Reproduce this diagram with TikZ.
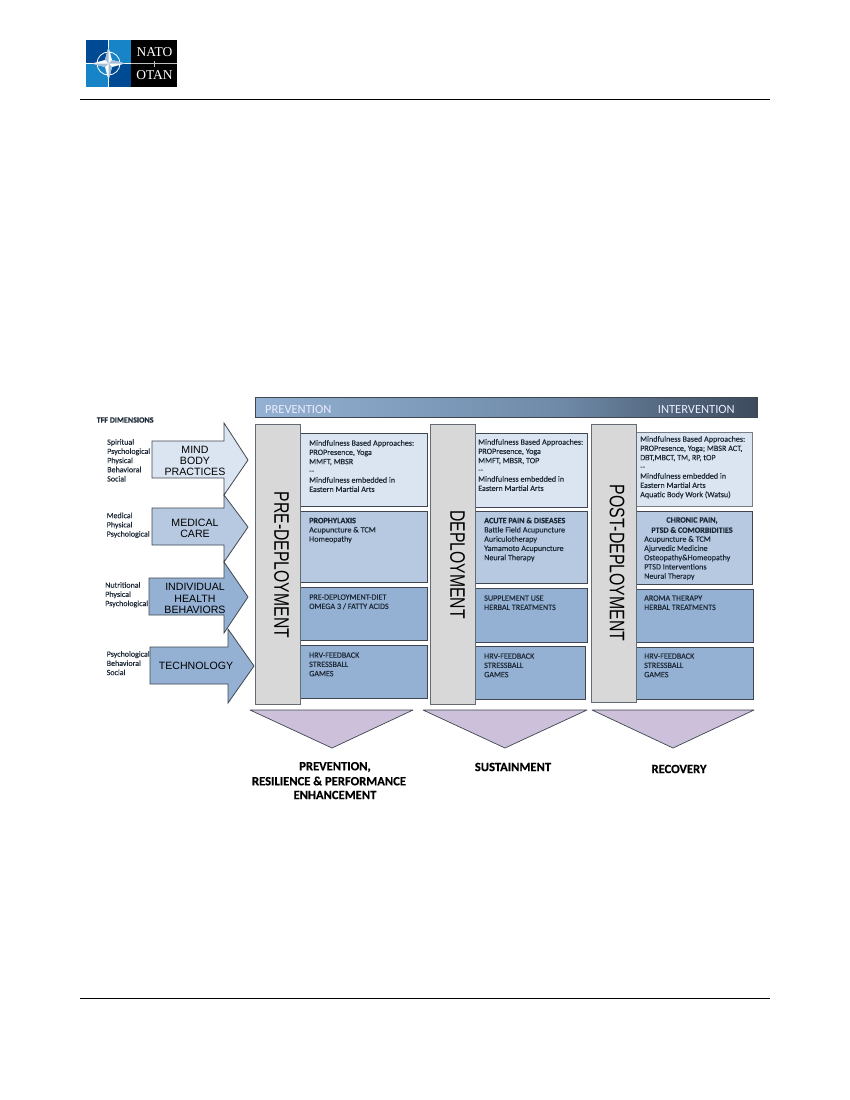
\documentclass[tikz,border=0pt]{standalone}
\usepackage{fontspec}
\usepackage{graphicx}
\setmainfont[BoldFeatures={FakeBold=0.35}]{Carlito}
\newfontfamily\blockf[FakeBold=0.25]{Carlito}
\newfontfamily\arialf{Liberation Sans}
\newfontfamily\timesf{Liberation Serif}
\newcommand{\strongtxt}{\normalfont\bfseries}
\definecolor{edgeC}{HTML}{3F4650}
\definecolor{txtC}{HTML}{1E2A38}
\definecolor{paleB}{HTML}{DAE5F1}
\definecolor{midB}{HTML}{B6C9E1}
\definecolor{deepB}{HTML}{94B1D3}
\definecolor{colG}{HTML}{D8D8D8}
\definecolor{lilac}{HTML}{CCC0DA}
\definecolor{navy}{HTML}{004A93}
\definecolor{sky}{HTML}{1784C7}
\definecolor{headerEnd}{HTML}{3C4A5C}
\definecolor{headerMid}{HTML}{6F8AA8}
\tikzset{
  panel/.style={draw=edgeC,line width=.8pt},
  column/.style={draw=edgeC!80,line width=.8pt,fill=colG},
  arrowshape/.style={draw=edgeC,line width=.8pt,line join=miter},
  wedge/.style={draw=edgeC,line width=.7pt,fill=lilac,line join=round},
  pagerule/.style={draw=black,line width=.8pt},
  blocktxt/.style={anchor=north west,inner sep=0pt,align=left,text=txtC,
    font=\blockf\fontsize{8.1}{9.25}\selectfont},
  dimtxt/.style={anchor=north west,inner sep=0pt,align=left,text=txtC,
    font=\blockf\fontsize{8}{9.2}\selectfont},
  headtxt/.style={inner sep=0pt,text=txtC,font=\fontsize{8.1}{9.25}\selectfont\strongtxt},
  arrowtxt/.style={inner sep=0pt,align=center,text=black,
    font=\arialf\fontsize{10.6}{11.3}\selectfont},
  coltxt/.style={inner sep=0pt,rotate=-90,text=black,font=\arialf\fontsize{21}{21}\selectfont},
  outcome/.style={inner sep=0pt,text=black,font=\fontsize{12.6}{14}\selectfont\strongtxt},
  bartxt/.style={inner sep=0pt,text=white!92!blue,font=\fontsize{12.5}{14}\selectfont},
}
\newcommand{\blocktext}[4]{\node[blocktxt] (#1) at (#2,#3-3.5) {\rule{0pt}{6pt}#4};}
\newcommand{\dimtext}[4]{\node[dimtxt] (#1) at (#2,#3-3.5) {\rule{0pt}{6pt}#4};}
\begin{document}
\begin{tikzpicture}[x=1pt,y=-1pt]
\path[use as bounding box,fill=white] (0,0) rectangle (850,1100);

% logo
\fill[navy] (86,40) rectangle (131,87);
\fill[sky] (108.5,40) rectangle (131,63.5);
\fill[sky] (86,63.5) rectangle (108.5,87);
\fill[black] (131,40) rectangle (177,87);
\draw[white,line width=.5pt] (86,63.5) -- (131,63.5) (108.5,40) -- (108.5,87);
\draw[white,line width=.8pt] (108.5,63.5) circle (11.5);
\fill[white] (108.5,47) -- (112,60) -- (125,63.5) -- (112,67) -- (108.5,80) -- (105,67) -- (92,63.5) -- (105,60) -- cycle;
\fill[navy!35] (108.5,47) -- (108.5,63.5) -- (105,60) -- cycle;
\fill[navy!35] (125,63.5) -- (108.5,63.5) -- (112,60) -- cycle;
\fill[navy!35] (108.5,80) -- (108.5,63.5) -- (112,67) -- cycle;
\fill[navy!35] (92,63.5) -- (108.5,63.5) -- (105,67) -- cycle;
\draw[white!75!black,line width=.5pt] (131,63.5) -- (177,63.5) (154,60.5) -- (154,66.5);
\node[inner sep=0pt,text=white,font=\timesf\fontsize{13.5}{15}\selectfont] (logoA) at (154.5,52) {NATO};
\node[inner sep=0pt,text=white,font=\timesf\fontsize{13.5}{15}\selectfont] (logoB) at (154.5,75.5) {OTAN};

% page rules
\draw[pagerule] (80,99) -- (770,99);
\draw[pagerule] (80,998) -- (770,998);

% header bar
\fill[left color=deepB,right color=headerMid] (255,397) rectangle (560,417);
\fill[left color=headerMid,right color=headerEnd] (560,397) rectangle (757,417);
\draw[edgeC,line width=.7pt] (255,397) rectangle (757,417);
\node[bartxt,anchor=west] (prev) at (265,409) {PREVENTION};
\node[bartxt,anchor=east] (interv) at (735,409) {INTERVENTION};

% TFF labels
\node[inner sep=0pt,anchor=west,text=txtC,font=\fontsize{8}{9}\selectfont\strongtxt] (tff) at (96.5,420) {TFF DIMENSIONS};
\dimtext{dimA}{107}{442}{Spiritual\\Psychological\\Physical\\Behavioral\\Social}
\dimtext{dimB}{106.5}{515.5}{Medical\\Physical\\Psychological}
\dimtext{dimC}{105}{585}{Nutritional\\Physical\\Psychological}
\dimtext{dimD}{106.5}{654}{Psychological\\Behavioral\\Social}

% arrows
\draw[arrowshape,fill=paleB] (152,441) -- (224,441) -- (224,423) -- (248,460) -- (224,495) -- (224,478) -- (152,478) -- cycle;
\draw[arrowshape,fill=midB] (152,508) -- (224,508) -- (224,495) -- (248,527) -- (224,562) -- (224,545) -- (152,545) -- cycle;
\draw[arrowshape,fill=deepB] (149,578) -- (224,578) -- (224,562) -- (248,597) -- (224,633) -- (224,615) -- (149,615) -- cycle;
\draw[arrowshape,fill=deepB] (150,647) -- (228,647) -- (228,629) -- (254,666) -- (228,703) -- (228,684) -- (150,684) -- cycle;
\node[arrowtxt] (arrA) at (195,461) {MIND\\BODY\\PRACTICES};
\node[arrowtxt] (arrB) at (195,528) {MEDICAL\\CARE};
\node[arrowtxt] (arrC) at (195,598.5) {INDIVIDUAL\\HEALTH\\BEHAVIORS};
\node[arrowtxt] (arrD) at (196,666) {TECHNOLOGY};

% panels, column 1
\draw[panel,fill=paleB] (300,433) rectangle (427,506);
\draw[panel,fill=midB] (300,511) rectangle (427,582);
\draw[panel,fill=deepB] (300,587) rectangle (427,640);
\draw[panel,fill=deepB] (300,645) rectangle (427,698);
% panels, column 2
\draw[panel,fill=paleB] (475,433) rectangle (587,507);
\draw[panel,fill=midB] (475,511) rectangle (587,583);
\draw[panel,fill=deepB] (475,588) rectangle (587,642);
\draw[panel,fill=deepB] (475,646) rectangle (585,699);
% panels, column 3
\draw[panel,draw=edgeC!70,fill=paleB] (636,432) rectangle (752,506);
\draw[panel,fill=midB] (636,511) rectangle (752,584);
\draw[panel,fill=deepB] (636,589) rectangle (753,642);
\draw[panel,fill=deepB] (636,647) rectangle (753,699);

% columns
\draw[column] (255,424) rectangle (300.5,704);
\draw[column] (430,424) rectangle (475,704);
\draw[column] (591,424) rectangle (636,702);
\node[coltxt] (colA) at (281.5,565) {\scalebox{.75}[1]{PRE-DEPLOYMENT}};
\node[coltxt] (colB) at (457.5,564.5) {\scalebox{.75}[1]{DEPLOYMENT}};
\node[coltxt] (colC) at (617,563) {\scalebox{.755}[1]{POST-DEPLOYMENT}};

% texts, column 1
\blocktext{a1}{309}{443}{Mindfulness Based Approaches:\\PROPresence, Yoga\\MMFT, MBSR\\--\\Mindfulness embedded in\\Eastern Martial Arts}
\blocktext{a2}{309}{520.5}{{\strongtxt PROPHYLAXIS}\\Acupuncture \& TCM\\Homeopathy}
\blocktext{a3}{309}{597}{PRE-DEPLOYMENT-DIET\\OMEGA 3 / FATTY ACIDS}
\blocktext{a4}{309}{655}{HRV-FEEDBACK\\STRESSBALL\\GAMES}
% texts, column 2
\blocktext{b1}{478}{442}{Mindfulness Based Approaches:\\PROPresence, Yoga\\MMFT, MBSR, TOP\\--\\Mindfulness embedded in\\Eastern Martial Arts}
\blocktext{b2}{484}{520.5}{{\strongtxt ACUTE PAIN \& DISEASES}\\Battle Field Acupuncture\\Auriculotherapy\\Yamamoto Acupuncture\\Neural Therapy}
\blocktext{b3}{484}{598}{SUPPLEMENT USE\\HERBAL TREATMENTS}
\blocktext{b4}{484}{656}{HRV-FEEDBACK\\STRESSBALL\\GAMES}
% texts, column 3
\blocktext{c1}{640}{439}{Mindfulness Based Approaches:\\PROPresence, Yoga; MBSR ACT,\\DBT,MBCT, TM, RP, tOP\\{-}{-}\\Mindfulness embedded in\\Eastern Martial Arts\\Aquatic Body Work (Watsu)}
\node[headtxt] (c2a) at (692,520.5) {CHRONIC PAIN,};
\node[headtxt] (c2b) at (692,530) {PTSD \& COMORBIDITIES};
\blocktext{c2}{644}{539}{Acupuncture \& TCM\\Ajurvedic Medicine\\Osteopathy\&Homeopathy\\PTSD Interventions\\Neural Therapy}
\blocktext{c3}{644}{598}{AROMA THERAPY\\HERBAL TREATMENTS}
\blocktext{c4}{644}{656}{HRV-FEEDBACK\\STRESSBALL\\GAMES}

% outcome wedges
\draw[wedge] (250,710) -- (413,710) -- (332,748) -- cycle;
\draw[wedge] (423,710) -- (587,710) -- (505,748) -- cycle;
\draw[wedge] (592,710) -- (754,710) -- (673,748) -- cycle;
\node[outcome] (oA) at (335,767) {PREVENTION,};
\node[outcome] (oB) at (329,781) {RESILIENCE \& PERFORMANCE};
\node[outcome] (oC) at (335,795) {ENHANCEMENT};
\node[outcome] (oD) at (513,767) {SUSTAINMENT};
\node[outcome] (oE) at (679,769) {RECOVERY};
\end{tikzpicture}
\end{document}
